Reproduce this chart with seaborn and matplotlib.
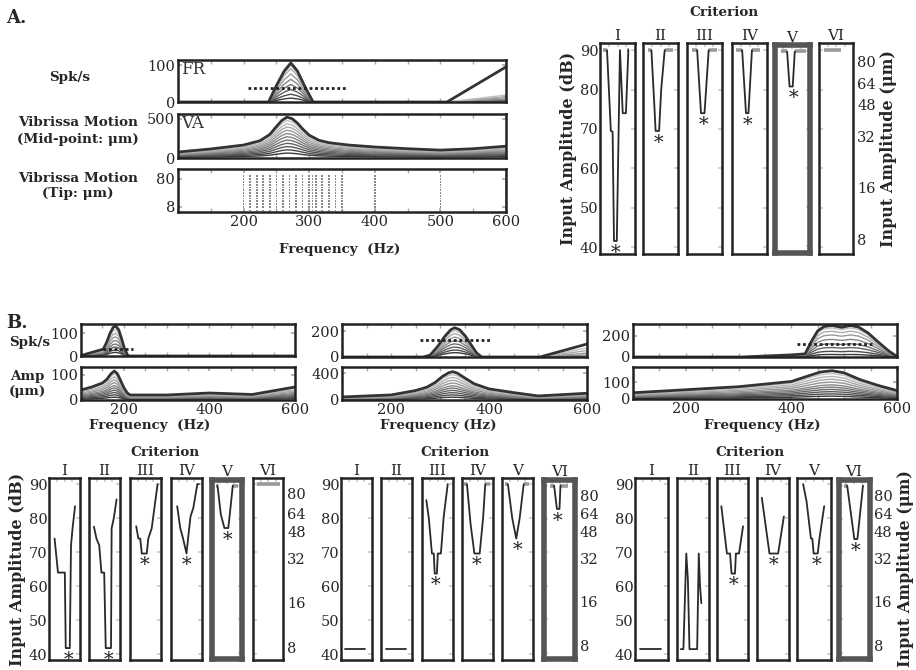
import numpy as np
import pandas as pd
import matplotlib.pyplot as plt
from matplotlib.ticker import MultipleLocator, NullFormatter
import seaborn as sns

sns.set_theme(style="white")
plt.rcParams['font.family'] = ['DejaVu Serif']
plt.rcParams['font.size'] = 10.5

W, H = 916, 670
fig = plt.figure(figsize=(W / 100, H / 100), dpi=100)


def px_axes(x0, y0, x1, y1):
    return fig.add_axes([x0 / W, 1 - y1 / H, (x1 - x0) / W, (y1 - y0) / H])


def ftext(x, y, s, **kw):
    fig.text(x / W, 1 - y / H, s, **kw)


# ---------------- data : panel A responses ----------------
a_fr_freq = [100, 200, 238, 250, 262, 272, 282, 294, 306, 400, 510, 600]
a_fr_top = [0, 0, 0, 45, 85, 107, 85, 40, 0, 0, 0, 0]
a_fr_scale = [1.0, 0.93, 0.85, 0.72, 0.58, 0.45, 0.32, 0.2, 0.1]
a_fr_end = [96, 19, 15, 12, 8, 5, 3, 1, 0]

a_va_freq = [100, 150, 200, 225, 240, 250, 258, 266, 274, 282, 290, 300, 315, 330,
             360, 400, 450, 500, 550, 600]
a_va_top = [76, 115, 165, 220, 300, 400, 475, 520, 500, 445, 370, 290, 225, 195,
            165, 140, 118, 100, 118, 150]
a_va_scale = [1.0, 0.92, 0.84, 0.76, 0.68, 0.6, 0.52, 0.44, 0.36, 0.28, 0.2, 0.12]

a_stim_freq = [100, 200, 210, 220, 230, 240, 250, 260, 270, 280, 290, 300,
               305, 310, 320, 330, 340, 350, 400, 500, 600]
a_stim_amp = [6, 8, 10, 13, 16, 20, 25, 32, 40, 50, 64, 80, 100]

# ---------------- data : panel B responses ----------------
b1_spk_freq = [100, 152, 160, 168, 175, 181, 188, 195, 202, 210, 600]
b1_spk_top = [2, 30, 60, 100, 125, 131, 115, 75, 30, 0, 0]
b1_spk_scale = [1.0, 0.88, 0.76, 0.64, 0.52, 0.4, 0.3, 0.2, 0.12]

b1_amp_freq = [100, 125, 150, 160, 170, 178, 185, 192, 200, 208, 215, 300, 400, 500, 600]
b1_amp_top = [40, 52, 68, 82, 105, 116, 105, 80, 50, 28, 20, 20, 28, 22, 52]

b2_spk_freq = [100, 266, 280, 295, 310, 322, 330, 340, 352, 365, 375, 385, 504, 600]
b2_spk_top = [0, 0, 15, 80, 160, 210, 225, 210, 160, 85, 30, 0, 0, 0]
b2_spk_scale = [1.0, 0.9, 0.8, 0.68, 0.56, 0.45, 0.34, 0.24, 0.15]
b2_spk_end = [100, 70, 50, 30, 15, 5, 0, 0, 0]

b2_amp_freq = [100, 200, 250, 273, 290, 305, 318, 326, 335, 350, 370, 400, 450, 500, 600]
b2_amp_top = [45, 75, 140, 190, 260, 350, 405, 420, 400, 330, 240, 165, 110, 60, 100]

b3_spk_freq = [100, 306, 400, 426, 438, 450, 462, 477, 495, 512, 527, 545, 565, 585, 600]
b3_spk_top = [0, 0, 20, 30, 150, 250, 290, 300, 282, 300, 285, 230, 140, 55, 5]
b3_spk_scale = [1.0, 0.92, 0.82, 0.7, 0.56, 0.42, 0.3, 0.18, 0.08]

b3_amp_freq = [100, 200, 300, 400, 430, 455, 477, 500, 530, 565, 600]
b3_amp_top = [37, 55, 73, 104, 135, 160, 168, 155, 115, 80, 50]

amp_scale = [1.0, 0.9, 0.8, 0.7, 0.6, 0.5, 0.42, 0.34, 0.26, 0.18, 0.1]

# stimulus bands (dotted): low freq, high freq, level
band_lo = [206, 152, 259, 410]
band_hi = [356, 222, 407, 552]
band_level = [38, 30, 130, 120]

# ---------------- data : criterion tuning curves ----------------
roman = ['I', 'II', 'III', 'IV', 'V', 'VI']
um_labels = ['8', '16', '32', '48', '64', '80']
um_db = [42.1, 55.2, 68.1, 76.2, 81.5, 87.1]

a_cx = [[2.0, 3.1, 3.6, 4.0, 4.8, 5.7, 6.5, 7.4, 8.1],
        [2.4, 3.3, 3.6, 4.6, 5.2, 6.2],
        [2.9, 4.0, 5.0, 6.2],
        [2.9, 4.0, 4.7, 5.7],
        [3.6, 4.3, 5.2, 5.8],
        []]
a_cdb = [[90, 69.5, 69.3, 41.6, 41.6, 90, 74, 74, 90],
         [90, 75, 69.5, 69.5, 80, 90],
         [90, 74, 74, 90],
         [90, 74, 74, 90],
         [90, 81, 81, 90],
         []]
a_gray = [[(0.9, 2.0), (7.7, 8.3)], [(1.4, 2.4), (6.2, 8.6)], [(1.4, 2.9), (6.2, 8.6)],
          [(1.0, 2.9), (5.7, 8.1)], [(1.8, 3.6), (5.8, 9.0)], [(1.6, 6.4)]]
a_star = [4.4, 4.3, 4.8, 4.3, 5.4, None]

b1_cx = [[1.8, 2.9, 5.1, 5.4, 6.7, 7.1, 7.6, 8.4],
         [1.6, 2.4, 3.3, 4.0, 4.9, 5.4, 7.1, 7.3, 8.0, 8.9],
         [2.0, 2.7, 3.3, 3.8, 5.4, 5.9, 7.0, 7.8, 8.9],
         [2.0, 3.0, 3.9, 5.0, 5.5, 6.3, 7.2, 8.5, 9.0],
         [2.0, 3.1, 4.3, 5.6, 6.1, 7.1],
         []]
b1_cdb = [[74, 64, 64, 41.8, 41.8, 72, 77, 83.5],
          [77.5, 74, 72, 64, 64, 41.8, 41.8, 77, 80, 85.5],
          [77.6, 74, 74, 69.6, 69.6, 74, 77, 82.5, 90],
          [83.5, 77, 74, 69.6, 74, 80.5, 83, 90, 90],
          [90, 81.4, 77.3, 77.3, 81.4, 90],
          []]
b1_gray = [[], [], [], [], [(1.5, 2.0), (7.1, 8.7)], [(1.3, 8.9)]]
b1_star = [6.2, 6.4, 4.6, 5.1, 5.3, None]

b2_cx = [[1.4, 7.9],
         [1.6, 8.0],
         [1.4, 2.2, 3.2, 3.8, 4.1, 4.8, 5.1, 6.1, 7.0, 8.3],
         [1.6, 2.8, 4.0, 5.7, 6.8, 7.5],
         [1.9, 3.3, 4.6, 5.7, 7.0],
         [3.3, 4.2, 5.0, 5.3]]
b2_cdb = [[41.5, 41.5],
          [41.5, 41.5],
          [85.3, 80, 69.6, 69.6, 63.7, 63.7, 69.6, 69.6, 80.4, 90],
          [90, 78, 69.6, 69.6, 80, 90],
          [90, 80, 74, 80, 90],
          [90, 83, 83, 90]]
b2_gray = [[], [], [], [(0.8, 1.6), (7.5, 9.0)], [(1.0, 1.9), (7.0, 8.8)], [(2.0, 3.3), (5.3, 7.8)]]
b2_star = [None, None, 4.3, 4.8, 4.9, 4.5]

b3_cx = [[1.5, 8.0],
         [1.2, 2.0, 2.9, 3.4, 3.9, 6.3, 6.8, 7.2, 7.6],
         [1.4, 3.2, 4.2, 4.7, 5.8, 6.1, 7.1, 8.4],
         [1.5, 3.9, 6.6, 8.4],
         [1.8, 2.8, 4.1, 4.5, 4.9, 6.1, 6.6, 8.0],
         [2.8, 5.1, 6.1, 7.9]]
b3_cdb = [[41.5, 41.5],
          [41.5, 41.5, 69.6, 62, 41.5, 41.5, 69.6, 60, 55],
          [83.5, 69.6, 69.6, 63.7, 63.7, 69.6, 69.6, 77.6],
          [86, 69.6, 69.6, 80.5],
          [90, 85, 74, 74, 69.6, 69.6, 74, 83.5],
          [90, 74, 74, 90]]
b3_gray = [[], [], [], [], [], [(1.8, 2.8)]]
b3_star = [None, None, 5.3, 5.3, 5.6, 5.6]

LAB = 9.7  # size of bold row / axis labels


# ---------------- helpers ----------------
def frame(ax, color='#222222', lw=1.8):
    for s in ax.spines.values():
        s.set_visible(True)
        s.set_color(color)
        s.set_linewidth(lw)


def family(ax, freq, top, scales, ends=None):
    rows = []
    for i, s in enumerate(scales):
        vals = [v * s for v in top]
        if ends is not None:
            vals[-1] = ends[i]
        for f, v in zip(freq, vals):
            rows.append((f, v, i))
    df = pd.DataFrame(rows, columns=['freq', 'val', 'level'])
    pal = sns.blend_palette(['#3a3a3a', '#d2d2d2'], len(scales))
    sns.lineplot(data=df, x='freq', y='val', hue='level', palette=pal,
                 hue_order=list(range(len(scales)))[::-1], legend=False,
                 estimator=None, sort=False, linewidth=1.0, ax=ax)
    top_df = df[df['level'] == 0]
    sns.lineplot(data=top_df, x='freq', y='val', color='#333333', linewidth=2.0,
                 estimator=None, sort=False, ax=ax)
    ax.set_xlabel('')
    ax.set_ylabel('')


def resp_axes(x0, y0, x1, y1, ylim, yticks, xticks=None):
    ax = px_axes(x0, y0, x1, y1)
    ax.set_xlim(100, 600)
    ax.set_ylim(*ylim)
    ax.set_yticks(yticks)
    ax.xaxis.set_minor_locator(MultipleLocator(50))
    if xticks is None:
        ax.set_xticks([])
    else:
        ax.set_xticks(xticks)
    ax.tick_params(which='both', direction='in', length=3, color='#aaaaaa',
                   top=True, right=True, bottom=True, left=True, pad=2, labelsize=10.5)
    frame(ax)
    return ax


def band(ax, i):
    ax.plot([band_lo[i], band_hi[i]], [band_level[i], band_level[i]], ls=(0, (1, 1)),
            color='#222222', lw=2.0)


def crit_group(lefts, rights, top, bottom, xs, dbs, grays, stars, hl, left_lab, right_lab):
    axes = []
    for i in range(6):
        pad = 1.5 if i == hl else 0
        ax = px_axes(lefts[i] + pad, top + pad, rights[i] - pad, bottom - pad)
        ax.set_xlim(0, 10)
        ax.set_ylim(38.3, 91.8)
        for g0, g1 in grays[i]:
            ax.plot([g0, g1], [90, 90], color='#9a9a9a', lw=2.6, solid_capstyle='butt')
        if xs[i]:
            df = pd.DataFrame({'x': xs[i], 'db': dbs[i]})
            sns.lineplot(data=df, x='x', y='db', color='#2a2a2a', linewidth=1.3,
                         estimator=None, sort=False, ax=ax)
        if stars[i] is not None:
            ax.annotate('*', (stars[i], min(dbs[i])), xytext=(0, -12),
                        textcoords='offset points', ha='center', va='baseline',
                        fontsize=14, color='#222222')
        ax.set_xticks([2.5, 5, 7.5])
        ax.set_yticks([40, 50, 60, 70, 80, 90])
        ax.tick_params(direction='in', length=3, color='#cccccc', top=True,
                       right=True, labelbottom=False, pad=1, labelsize=10.5)
        if i != 0:
            ax.tick_params(labelleft=False)
        ax.set_xlabel('')
        ax.set_ylabel('')
        ax.set_title(roman[i], fontsize=11, pad=1)
        if i == hl:
            frame(ax, '#555555', 4.0)
        else:
            frame(ax)
        if i == 5:
            ax2 = ax.twinx()
            ax2.set_ylim(38.3, 91.8)
            ax2.set_yticks(um_db)
            ax2.set_yticklabels(um_labels)
            ax2.tick_params(length=0, pad=3, labelsize=10.5)
            ax2.grid(False)
            for s in ax2.spines.values():
                s.set_visible(False)
            if right_lab:
                ax2.set_ylabel('Input Amplitude (μm)', fontsize=11.5, fontweight='bold', labelpad=3)
        axes.append(ax)
    if left_lab:
        axes[0].set_ylabel('Input Amplitude (dB)', fontsize=11.5, fontweight='bold', labelpad=2)
    return axes


# ================= Panel A =================
ftext(6, 18, 'A.', fontsize=13, fontweight='bold', va='center')

ax = resp_axes(178, 60, 506, 102, (0, 115), [0, 100])
family(ax, a_fr_freq, a_fr_top, a_fr_scale, a_fr_end)
band(ax, 0)
ax.text(0.01, 0.97, 'FR', transform=ax.transAxes, ha='left', va='top', fontsize=12, color='#333333')

ax = resp_axes(178, 114, 506, 158, (0, 560), [0, 500])
family(ax, a_va_freq, a_va_top, a_va_scale)
ax.text(0.01, 0.97, 'VA', transform=ax.transAxes, ha='left', va='top', fontsize=12, color='#333333')

ax = resp_axes(178, 169, 506, 212, (5.3, 182), [8, 80], [200, 300, 400, 500, 600])
ax.set_yscale('log')
ax.set_ylim(5.3, 182)
ax.set_yticks([8, 80])
ax.set_yticklabels(['8', '80'])
ax.yaxis.set_minor_formatter(NullFormatter())
ax.tick_params(axis='y', which='minor', length=0)
grid_f, grid_a = np.meshgrid(a_stim_freq, a_stim_amp)
sns.scatterplot(x=grid_f.ravel(), y=grid_a.ravel(), marker='s', s=1.5, color='#888888',
                edgecolor='none', ax=ax)
frame(ax)

ftext(340, 249, 'Frequency  (Hz)', fontsize=LAB, fontweight='bold', ha='center', va='center')
ftext(70, 77, 'Spk/s', fontsize=LAB, fontweight='bold', ha='center', va='center')
ftext(78, 131, 'Vibrissa Motion\n(Mid-point: μm)', fontsize=LAB, fontweight='bold',
      ha='center', va='center', linespacing=1.3)
ftext(78, 186, 'Vibrissa Motion\n(Tip: μm)', fontsize=LAB, fontweight='bold',
      ha='center', va='center', linespacing=1.3)

crit_group([600, 643, 687, 732, 773, 819], [635, 678, 722, 767, 811, 853], 43, 254,
           a_cx, a_cdb, a_gray, a_star, 4, True, True)
ftext(724, 12, 'Criterion', fontsize=LAB, fontweight='bold', ha='center', va='center')

# ================= Panel B =================
ftext(6, 323, 'B.', fontsize=13, fontweight='bold', va='center')
ftext(30, 342, 'Spk/s', fontsize=LAB, fontweight='bold', ha='center', va='center')
ftext(27, 384, 'Amp\n(μm)', fontsize=LAB, fontweight='bold', ha='center', va='center',
      linespacing=1.2)

b_left = [81, 342, 633]
b_right = [295, 587, 897]

ax = resp_axes(b_left[0], 324, b_right[0], 356, (0, 140), [0, 100])
family(ax, b1_spk_freq, b1_spk_top, b1_spk_scale)
band(ax, 1)
ax = resp_axes(b_left[0], 367, b_right[0], 400, (0, 132), [0, 100], [200, 400, 600])
family(ax, b1_amp_freq, b1_amp_top, amp_scale)

ax = resp_axes(b_left[1], 324, b_right[1], 357, (0, 254), [0, 200])
family(ax, b2_spk_freq, b2_spk_top, b2_spk_scale, b2_spk_end)
band(ax, 2)
ax = resp_axes(b_left[1], 367, b_right[1], 400, (0, 490), [0, 400], [200, 400, 600])
family(ax, b2_amp_freq, b2_amp_top, amp_scale)

ax = resp_axes(b_left[2], 324, b_right[2], 357, (0, 314), [0, 200])
family(ax, b3_spk_freq, b3_spk_top, b3_spk_scale)
band(ax, 3)
ax = resp_axes(b_left[2], 367, b_right[2], 399, (0, 190), [0, 100], [200, 400, 600])
family(ax, b3_amp_freq, b3_amp_top, amp_scale)

ftext(150, 425, 'Frequency  (Hz)', fontsize=LAB, fontweight='bold', ha='center', va='center')
ftext(438, 425, 'Frequency (Hz)', fontsize=LAB, fontweight='bold', ha='center', va='center')
ftext(762, 425, 'Frequency (Hz)', fontsize=LAB, fontweight='bold', ha='center', va='center')

crit_group([49, 89, 130, 171, 210, 253], [80, 120, 161, 202, 243, 283], 478, 660,
           b1_cx, b1_cdb, b1_gray, b1_star, 4, True, False)
crit_group([341, 381, 422, 462, 502, 542], [372, 412, 453, 493, 533, 577], 478, 660,
           b2_cx, b2_cdb, b2_gray, b2_star, 5, False, False)
crit_group([635, 677, 717, 757, 797, 837], [668, 709, 748, 789, 831, 871], 478, 660,
           b3_cx, b3_cdb, b3_gray, b3_star, 5, False, True)
for cx in [165, 455, 750]:
    ftext(cx, 452, 'Criterion', fontsize=LAB, fontweight='bold', ha='center', va='center')

fig.savefig('out.png', dpi=100, facecolor='white')
